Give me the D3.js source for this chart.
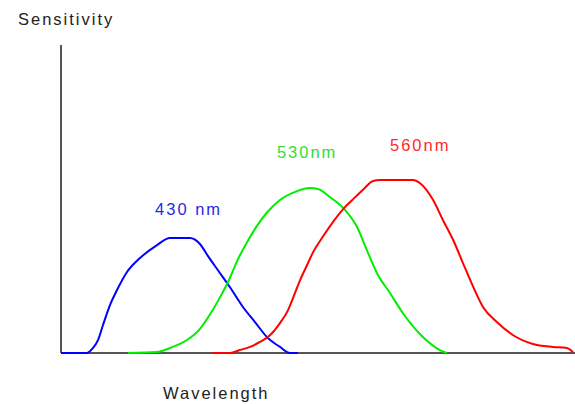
<!DOCTYPE html>
<html><head><meta charset="utf-8">
<script src="https://cdn.jsdelivr.net/npm/d3@7"></script>
<style>
html,body{margin:0;padding:0;background:#fff;}
text{font-family:"Liberation Sans",Arial,sans-serif;font-size:16.5px;letter-spacing:2px;}
</style></head>
<body><svg id="c" width="575" height="404"></svg>
<script>
// position along wavelength axis (0-100, arbitrary units), relative sensitivity
const blueCone = [[0,0],[5.06,0],[6.23,.029],[7.2,.075],[8.17,.162],[9.53,.277],[10.9,.364],[12.84,.468],[15.37,.549],[18.68,.624],[21.2,.665],[25.1,.665],[27.04,.63],[28.6,.56],[30.5,.48],[32.88,.38],[35.4,.266],[37.74,.179],[40.08,.092],[42.61,.035],[44.55,0],[46.1,0]];
const greenCone = [[13.0,0],[18.68,.006],[21.2,.029],[24.5,.075],[27.04,.14],[28.6,.205],[30.9,.32],[32.88,.435],[34.24,.53],[36.19,.64],[38.13,.735],[40.08,.812],[42.6,.884],[45.9,.936],[48.4,.954],[50.0,.948],[52.3,.902],[54.9,.838],[57.6,.728],[59.5,.595],[61.5,.46],[64.0,.347],[66.5,.231],[70.4,.092],[73.7,.017],[75.1,0]];
const redCone = [[29.4,0],[32.88,0],[34.8,.017],[36.8,.035],[38.7,.064],[40.7,.104],[42.6,.173],[44.2,.249],[45.1,.315],[46.5,.42],[47.9,.51],[49.0,.58],[51.0,.675],[52.9,.757],[54.9,.832],[56.8,.888],[58.8,.945],[60.7,.994],[62.1,1],[68.5,1],[69.8,.983],[72.4,.884],[74.3,.769],[76.3,.653],[78.2,.52],[80.2,.382],[82.1,.266],[84.8,.179],[87.9,.104],[91.8,.052],[95.7,.035],[98.4,.029],[99.6,.006]];
const peakLabels = ["430 nm","530nm","560nm"];
const labelPos = [[18.3,.80],[42.0,1.127],[64.0,1.165]];
const colors = ["#0000ff","#00ee00","#ff0000"];
const labelColors = ["#2a2ae0","#30e030","#ff2a2a"];
const yAxisTitle = "Sensitivity";
const xAxisTitle = "Wavelength";

const svg = d3.select("#c");
const x = d3.scaleLinear().domain([0,100]).range([61,575]);
const y = d3.scaleLinear().domain([0,1]).range([353,180]);

// axes
svg.append("line").attr("x1",x(0)).attr("x2",x(0)).attr("y1",y(0)).attr("y2",y(1.78))
  .attr("stroke","#555").attr("stroke-width",2);
svg.append("line").attr("x1",x(0)).attr("x2",x(100)).attr("y1",y(0)).attr("y2",y(0))
  .attr("stroke","#555").attr("stroke-width",2);

const line = d3.line().x(d=>x(d[0])).y(d=>y(d[1])).curve(d3.curveMonotoneX);
[blueCone,greenCone,redCone].forEach((s,i)=>{
  svg.append("path").attr("d",line(s)).attr("fill","none")
    .attr("stroke",colors[i]).attr("stroke-width",2).attr("stroke-linejoin","round");
});

peakLabels.forEach((t,i)=>{
  svg.append("text").attr("x",x(labelPos[i][0])).attr("y",y(labelPos[i][1]))
    .attr("fill",labelColors[i]).text(t);
});
svg.append("text").attr("x",18).attr("y",25).attr("fill","#222").text(yAxisTitle);
svg.append("text").attr("x",163).attr("y",399).attr("fill","#222").text(xAxisTitle);
</script></body></html>
